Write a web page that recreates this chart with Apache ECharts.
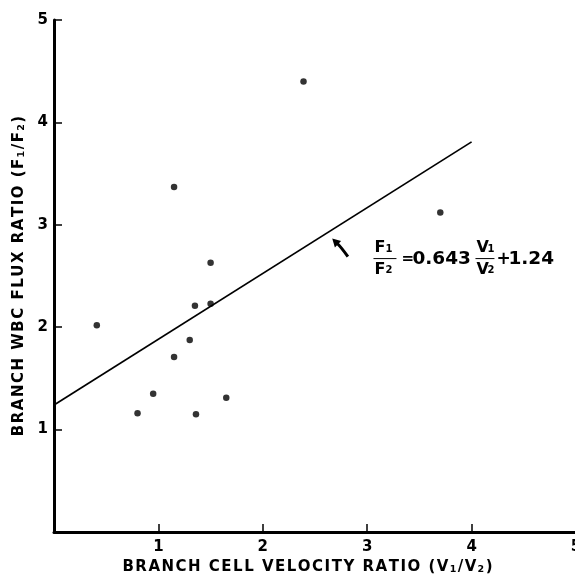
<!DOCTYPE html>
<html><head><meta charset="utf-8">
<script src="https://cdn.jsdelivr.net/npm/echarts@6/dist/echarts.min.js"></script>
<style>html,body{margin:0;padding:0;background:#fff}#c{width:575px;height:577px}</style>
</head><body><div id="c"></div>
<script>
// Data
const velocityRatio = [0.41, 0.80, 0.95, 1.15, 1.15, 1.30, 1.35, 1.36, 1.50, 1.50, 1.65, 2.39, 3.70];
const fluxRatio     = [2.02, 1.16, 1.35, 3.37, 1.71, 1.875, 2.21, 1.15, 2.23, 2.63, 1.31, 4.40, 3.12];
const fitLineX = [0, 4];
const fitLineY = [1.24, 3.81];
const tickLabels = ['', '1', '2', '3', '4', '5'];
const arrowTip = [2.665, 2.865];
const arrowTail = [2.815, 2.69];
const eqAnchor = [3.06, 2.67]; // left end of fraction bar (data coords)

const FONT = '"DejaVu Sans", "Liberation Sans", Arial, sans-serif';
const chart = echarts.init(document.getElementById('c'), null, {renderer: 'canvas'});

const points = velocityRatio.map((v, i) => [v, fluxRatio[i]]);
const fit = fitLineX.map((v, i) => [v, fitLineY[i]]);

// letter-spaced rich text: parts = [[text, styleKey], ...]
function spaced(parts) {
  let out = '';
  parts.forEach(([t, k]) => { for (const ch of t) out += '{' + k + '|' + ch + '}'; });
  return out;
}
const nameRich = {
  a: {fontFamily: FONT, fontWeight: 'bold', fontSize: 15, color: '#000', padding: [0, 0.75, 0, 0.75]},
  s: {fontFamily: FONT, fontWeight: 'bold', fontSize: 9.5, color: '#000', padding: [5, 0.75, 0, 0.5]}
};

chart.setOption({
  animation: false,
  backgroundColor: '#fff',
  grid: {left: 54, top: 20, width: 522, height: 512, outerBoundsMode: 'none', containLabel: false},
  xAxis: {
    type: 'value', min: 0, max: 5, interval: 1,
    name: spaced([['BRANCH CELL VELOCITY RATIO (V', 'a'], ['1', 's'], ['/V', 'a'], ['2', 's'], [')', 'a']]),
    nameLocation: 'middle', nameGap: 25,
    nameTextStyle: {rich: nameRich, padding: [0, 15, 0, 0]},
    axisLine: {lineStyle: {color: '#000', width: 3}},
    axisTick: {inside: true, length: 8, lineStyle: {color: '#000', width: 1.5}},
    splitLine: {show: false},
    axisLabel: {formatter: (v) => tickLabels[Math.round(v)], color: '#000', fontFamily: FONT, fontWeight: 'bold', fontSize: 15, margin: 8}
  },
  yAxis: {
    type: 'value', min: 0, max: 5, interval: 1,
    name: spaced([['BRANCH WBC FLUX RATIO (F', 'a'], ['1', 's'], ['/F', 'a'], ['2', 's'], [')', 'a']]),
    nameLocation: 'middle', nameGap: 26,
    nameTextStyle: {rich: nameRich},
    axisLine: {lineStyle: {color: '#000', width: 3}},
    axisTick: {inside: true, length: 8, lineStyle: {color: '#000', width: 1.5}},
    splitLine: {show: false},
    axisLabel: {formatter: (v) => tickLabels[Math.round(v)], color: '#000', fontFamily: FONT, fontWeight: 'bold', fontSize: 15, margin: 6,
      padding: [3, 0, 0, 0]}
  },
  series: [
    {type: 'scatter', data: points, symbol: 'circle', symbolSize: 6.5, itemStyle: {color: '#000'}, z: 3},
    {type: 'line', data: fit, showSymbol: false, lineStyle: {color: '#000', width: 1.7}, z: 2}
  ]
});

function px(p) { return chart.convertToPixel({gridIndex: 0}, p); }

const tip = px(arrowTip), tail = px(arrowTail);
const cp = [(tip[0] + tail[0]) / 2 + 1, (tip[1] + tail[1]) / 2 - 0.5];
const dx = tip[0] - cp[0], dy = tip[1] - cp[1];
const L = Math.hypot(dx, dy), ux = dx / L, uy = dy / L;
const hl = 8, hw = 4.5;
const base = [tip[0] - ux * hl, tip[1] - uy * hl];
const head = [tip, [base[0] - uy * hw, base[1] + ux * hw], [base[0] + uy * hw, base[1] - ux * hw]];

const a = px(eqAnchor);
const ax = a[0], ay = a[1];
const eqFont = (size) => ({fontFamily: FONT, fontWeight: 'bold', fontSize: size, fill: '#000'});

chart.setOption({
  graphic: [
    {type: 'bezierCurve', shape: {x1: tail[0], y1: tail[1], x2: base[0] + ux * 1, y2: base[1] + uy * 1, cpx1: cp[0], cpy1: cp[1]}, style: {stroke: '#000', lineWidth: 3, fill: null}},
    {type: 'polygon', shape: {points: head}, style: {fill: '#000'}},
    // F1 / F2
    {type: 'text', x: ax + 1, y: ay - 3, style: Object.assign({text: 'F', textVerticalAlign: 'bottom'}, eqFont(16))},
    {type: 'text', x: ax + 12, y: ay - 4, style: Object.assign({text: '1', textVerticalAlign: 'bottom'}, eqFont(10))},
    {type: 'line', shape: {x1: ax, y1: ay, x2: ax + 23, y2: ay}, style: {stroke: '#000', lineWidth: 1}},
    {type: 'text', x: ax + 1, y: ay + 3, style: Object.assign({text: 'F', textVerticalAlign: 'top'}, eqFont(16))},
    {type: 'text', x: ax + 12, y: ay + 7, style: Object.assign({text: '2', textVerticalAlign: 'top'}, eqFont(10))},
    {type: 'text', x: ax + 28, y: ay + 1, style: Object.assign({text: '=', textVerticalAlign: 'middle'}, eqFont(15))},
    {type: 'text', x: ax + 39, y: ay + 1, style: Object.assign({text: '0.643', textVerticalAlign: 'middle'}, eqFont(18.5))},
    // V1 / V2
    {type: 'text', x: ax + 103, y: ay - 3, style: Object.assign({text: 'V', textVerticalAlign: 'bottom'}, eqFont(16))},
    {type: 'text', x: ax + 114, y: ay - 4, style: Object.assign({text: '1', textVerticalAlign: 'bottom'}, eqFont(10))},
    {type: 'line', shape: {x1: ax + 102, y1: ay, x2: ax + 121, y2: ay}, style: {stroke: '#000', lineWidth: 1}},
    {type: 'text', x: ax + 103, y: ay + 3, style: Object.assign({text: 'V', textVerticalAlign: 'top'}, eqFont(16))},
    {type: 'text', x: ax + 114, y: ay + 7, style: Object.assign({text: '2', textVerticalAlign: 'top'}, eqFont(10))},
    {type: 'text', x: ax + 123, y: ay + 1, style: Object.assign({text: '+', textVerticalAlign: 'middle'}, eqFont(17))},
    {type: 'text', x: ax + 135, y: ay + 1, style: Object.assign({text: '1.24', textVerticalAlign: 'middle'}, eqFont(18.5))}
  ]
});
</script>
</body></html>
